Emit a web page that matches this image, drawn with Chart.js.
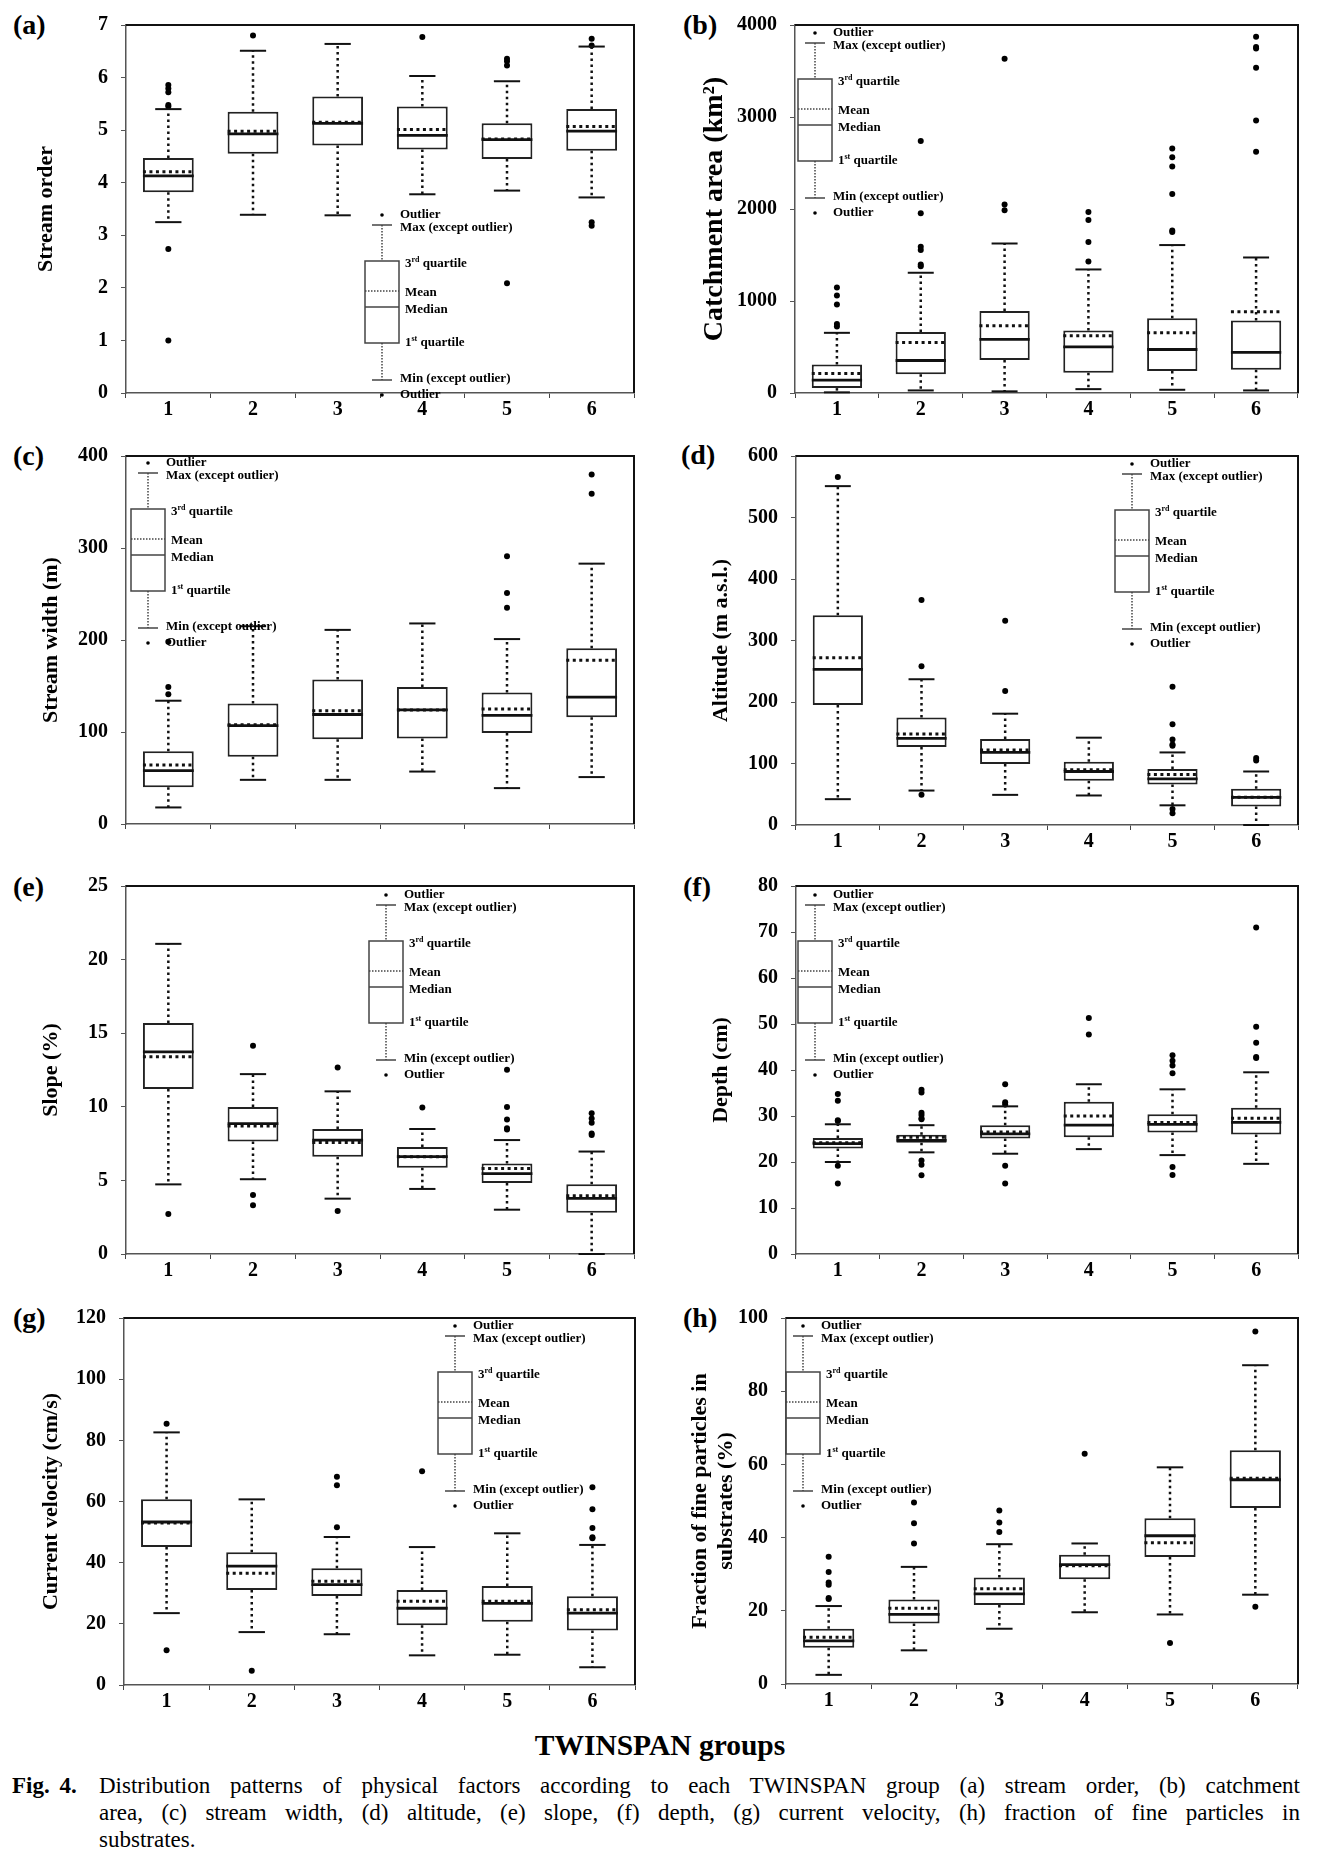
<!DOCTYPE html>
<html>
<head>
<meta charset="utf-8">
<script src="https://cdn.jsdelivr.net/npm/chart.js@4.4.0/dist/chart.umd.min.js"></script>
<style>
  body { margin: 0; background: #fff; }
  #page { position: relative; width: 1320px; height: 1867px; font-family: "Liberation Serif", "Times New Roman", serif; color: #000; overflow: hidden; }
  #page canvas { position: absolute; }
  .tag { position: absolute; font-weight: bold; font-size: 28px; line-height: 32px; }
  .xtitle { position: absolute; left: 0; width: 1320px; top: 1727px; text-align: center; font-weight: bold; font-size: 29.5px; line-height: 36px; }
  .cap { position: absolute; left: 99px; width: 1201px; top: 1772px; font-size: 23px; line-height: 27px; }
  .cap .ln.j { text-align: justify; text-align-last: justify; }
  .cap .fig { position: absolute; left: -87px; top: 0; font-weight: bold; word-spacing: 4px; }
</style>
</head>
<body>
<div id="page">
  <div class="tag" style="left:13px;top:9px">(a)</div>
  <div class="tag" style="left:683px;top:9px">(b)</div>
  <div class="tag" style="left:13px;top:440px">(c)</div>
  <div class="tag" style="left:681px;top:439px">(d)</div>
  <div class="tag" style="left:13px;top:871px">(e)</div>
  <div class="tag" style="left:683px;top:871px">(f)</div>
  <div class="tag" style="left:13px;top:1302px">(g)</div>
  <div class="tag" style="left:683px;top:1302px">(h)</div>
  <div class="xtitle">TWINSPAN groups</div>
  <div class="cap">
    <div class="fig">Fig. 4.</div>
    <div class="ln j">Distribution patterns of physical factors according to each TWINSPAN group (a) stream order, (b) catchment</div>
    <div class="ln j">area, (c) stream width, (d) altitude, (e) slope, (f) depth, (g) current velocity, (h) fraction of fine particles in</div>
    <div class="ln">substrates.</div>
  </div>
</div>
<script>
const groups = ['1', '2', '3', '4', '5', '6'];

// box rows per group: [min, q1, median, mean, q3, max]
const orderBox = [
  [3.25, 3.82, 4.13, 4.21, 4.47, 5.40],
  [3.39, 4.55, 4.93, 4.98, 5.35, 6.51],
  [3.38, 4.71, 5.13, 5.15, 5.64, 6.64],
  [3.78, 4.63, 4.90, 5.01, 5.45, 6.03],
  [3.85, 4.45, 4.82, 4.83, 5.13, 5.93],
  [3.72, 4.61, 4.98, 5.07, 5.40, 6.59]
];
const orderOut = [[5.86, 5.79, 5.72, 5.48, 5.45, 2.74, 1.0], [6.80], [], [6.77], [6.36, 6.31, 6.23, 2.09], [6.74, 6.61, 3.25, 3.18]];
const orderTicks = [0, 1, 2, 3, 4, 5, 6, 7];

const areaBox = [
  [7, 53, 141, 212, 311, 654],
  [28, 205, 353, 548, 664, 1307],
  [18, 360, 583, 731, 890, 1625],
  [42, 219, 502, 622, 678, 1343],
  [35, 240, 473, 654, 813, 1608],
  [28, 254, 442, 883, 788, 1473]
];
const areaOut = [[1148, 1060, 961, 749, 724], [2739, 1954, 1590, 1555, 1396, 1378], [3633, 2049, 1986], [1968, 1880, 1640, 1428], [2657, 2562, 2463, 2163, 1765, 1750], [3873, 3760, 3745, 3534, 2961, 2622]];
const areaTicks = [0, 1000, 2000, 3000, 4000];

const widthBox = [
  [18, 40, 58, 64, 79, 134],
  [48, 73, 107, 108, 131, 215],
  [48, 92, 119, 123, 157, 211],
  [57, 93, 124, 124, 149, 218],
  [39, 99, 118, 125, 143, 201],
  [51, 116, 138, 178, 191, 283]
];
const widthOut = [[198, 149, 141], [], [], [], [291, 251, 235], [380, 359]];
const widthTicks = [0, 100, 200, 300, 400];

const altBox = [
  [42, 195, 253, 272, 341, 551],
  [56, 127, 141, 148, 175, 237],
  [49, 99, 118, 122, 140, 181],
  [48, 72, 87, 90, 103, 142],
  [32, 66, 75, 82, 91, 118],
  [0, 30, 45, 45, 59, 87]
];
const altOut = [[566], [366, 258, 49], [332, 218], [], [225, 164, 139, 131, 129, 26, 19], [109, 105]];
const altTicks = [0, 100, 200, 300, 400, 500, 600];

const slopeBox = [
  [4.73, 11.21, 13.73, 13.40, 15.69, 21.07],
  [5.08, 7.65, 8.86, 8.69, 9.99, 12.22],
  [3.76, 6.61, 7.74, 7.58, 8.49, 11.05],
  [4.42, 5.86, 6.61, 6.61, 7.27, 8.49],
  [3.01, 4.82, 5.46, 5.81, 6.15, 7.74],
  [0, 2.81, 3.78, 3.96, 4.73, 6.96]
];
const slopeOut = [[2.72], [14.15, 4.0, 3.32], [12.67, 2.92], [9.95], [12.51, 9.99, 9.13, 8.55, 8.45], [9.57, 9.2, 8.91, 8.18, 8.08]];
const slopeTicks = [0, 5, 10, 15, 20, 25];

const depthBox = [
  [20.0, 22.95, 24.0, 24.2, 25.2, 28.2],
  [22.1, 24.2, 24.7, 25.4, 25.9, 28.0],
  [21.8, 25.1, 26.1, 26.5, 28.0, 32.1],
  [22.8, 25.4, 28.0, 30.0, 33.1, 36.9],
  [21.5, 26.4, 28.2, 28.6, 30.4, 35.8],
  [19.6, 26.0, 28.6, 29.5, 31.8, 39.5]
];
const depthOut = [[34.8, 33.3, 29.1, 28.9, 19.2, 15.3], [35.7, 35.1, 30.7, 30.2, 29.5, 29.3, 20.3, 19.4, 17.1], [36.9, 33.0, 32.5, 19.2, 15.3], [51.3, 47.7], [43.2, 42.0, 41.0, 39.3, 18.9, 17.2], [71.0, 49.4, 45.9, 42.8, 42.6]];
const depthTicks = [0, 10, 20, 30, 40, 50, 60, 70, 80];

const velBox = [
  [23.5, 45.1, 53.3, 53.0, 60.7, 82.6],
  [17.3, 31.1, 38.9, 36.5, 43.4, 60.7],
  [16.6, 29.1, 32.8, 33.9, 38.2, 48.4],
  [9.7, 19.5, 25.1, 27.4, 31.1, 45.1],
  [9.9, 20.7, 26.7, 27.4, 32.4, 49.6],
  [5.8, 17.8, 23.5, 24.6, 29.0, 45.8]
];
const velOut = [[85.4, 11.4], [4.7], [68.1, 65.3, 51.6], [69.9], [], [64.7, 57.5, 51.3, 48.3, 48.0]];
const velTicks = [0, 20, 40, 60, 80, 100, 120];

const fineBox = [
  [2.5, 9.9, 11.8, 12.8, 15.1, 21.3],
  [9.2, 16.5, 19.0, 20.7, 23.1, 32.0],
  [15.1, 21.6, 24.6, 26.0, 29.1, 38.2],
  [19.6, 28.6, 32.6, 32.3, 35.3, 38.4],
  [19.0, 34.7, 40.5, 38.6, 45.3, 59.2],
  [24.4, 48.1, 55.8, 56.2, 63.9, 87.1]
];
const fineOut = [[34.8, 30.6, 27.7, 27.1, 23.5, 23.2], [49.6, 43.9, 38.4], [47.4, 44.1, 41.5], [62.9], [11.2], [96.3, 21.1]];
const fineTicks = [0, 20, 40, 60, 80, 100];

const SERIF = '"Liberation Serif", "Times New Roman", serif';

// page layout of each panel (plot area edges in page px, legend offset from plot top-left)
const panels = [
  { id: 'a', box: orderBox, out: orderOut, ticks: orderTicks, title: 'Stream order', tsize: 22, tx: 46, cx: 0, L: 126, R: 634, T: 16, B: 393, showX: true, leg: [256, 190] },
  { id: 'b', box: areaBox, out: areaOut, ticks: areaTicks, title: 'Catchment area (km\u00b2)', tsize: 28, tx: 55, cx: 660, L: 795, R: 1298, T: 16, B: 393, showX: true, leg: [20, 8] },
  { id: 'c', box: widthBox, out: widthOut, ticks: widthTicks, title: 'Stream width (m)', tsize: 22, tx: 51, cx: 0, L: 126, R: 634, T: 447, B: 824, showX: false, leg: [22, 7] },
  { id: 'd', box: altBox, out: altOut, ticks: altTicks, title: 'Altitude (m a.s.l.)', tsize: 22, tx: 61, cx: 660, L: 796, R: 1298, T: 447, B: 825, showX: true, leg: [336, 8] },
  { id: 'e', box: slopeBox, out: slopeOut, ticks: slopeTicks, title: 'Slope (%)', tsize: 22, tx: 51, cx: 0, L: 126, R: 634, T: 877, B: 1254, showX: true, leg: [260, 9] },
  { id: 'f', box: depthBox, out: depthOut, ticks: depthTicks, title: 'Depth (cm)', tsize: 22, tx: 61, cx: 660, L: 796, R: 1298, T: 877, B: 1254, showX: true, leg: [19, 9] },
  { id: 'g', box: velBox, out: velOut, ticks: velTicks, title: 'Current velocity (cm/s)', tsize: 22, tx: 51, cx: 0, L: 124, R: 635, T: 1309, B: 1685, showX: true, leg: [331, 8] },
  { id: 'h', box: fineBox, out: fineOut, ticks: fineTicks, title: ['Fraction of fine particles in', 'substrates (%)'], tsize: 22, tx: 40, cx: 660, L: 786, R: 1298, T: 1309, B: 1684, showX: true, leg: [17, 8] }
];

function seg(ctx, x1, y1, x2, y2) {
  ctx.beginPath(); ctx.moveTo(x1, y1); ctx.lineTo(x2, y2); ctx.stroke();
}
function dot(ctx, x, y, r) {
  ctx.beginPath(); ctx.arc(x, y, r, 0, Math.PI * 2); ctx.fill();
}

function drawKey(ctx, ox, oy) {
  ctx.save();
  ctx.fillStyle = '#000';
  ctx.strokeStyle = '#444';
  dot(ctx, ox, oy, 1.8);
  dot(ctx, ox, oy + 180, 1.8);
  ctx.lineWidth = 1.5;
  seg(ctx, ox - 10, oy + 10, ox + 10, oy + 10);
  seg(ctx, ox - 10, oy + 165, ox + 10, oy + 165);
  ctx.strokeRect(ox - 17, oy + 46, 34, 82);
  seg(ctx, ox - 17, oy + 92, ox + 17, oy + 92);
  ctx.setLineDash([1.5, 1.5]);
  seg(ctx, ox, oy + 10, ox, oy + 46);
  seg(ctx, ox, oy + 128, ox, oy + 165);
  seg(ctx, ox - 17, oy + 76, ox + 17, oy + 76);
  ctx.setLineDash([]);

  const f = 'bold 13px ' + SERIF;
  ctx.font = f;
  ctx.textBaseline = 'middle';
  ctx.textAlign = 'left';
  ctx.fillText('Outlier', ox + 18, oy);
  ctx.fillText('Max (except outlier)', ox + 18, oy + 13);
  ctx.fillText('Mean', ox + 23, oy + 78);
  ctx.fillText('Median', ox + 23, oy + 95);
  ctx.fillText('Min (except outlier)', ox + 18, oy + 164);
  ctx.fillText('Outlier', ox + 18, oy + 180);
  [['3', 'rd', ' quartile', oy + 49], ['1', 'st', ' quartile', oy + 128]].forEach(([a, s, b, ty]) => {
    let x = ox + 23;
    ctx.font = f; ctx.fillText(a, x, ty); x += ctx.measureText(a).width;
    ctx.font = 'bold 8px ' + SERIF; ctx.fillText(s, x, ty - 4); x += ctx.measureText(s).width;
    ctx.font = f; ctx.fillText(b, x, ty);
  });
  ctx.restore();
}

function boxPlugin(p) {
  return {
    id: 'box_' + p.id,
    afterDatasetsDraw(chart) {
      const { ctx, chartArea: a, scales: { x, y } } = chart;
      const cw = a.width / groups.length;
      const hw = cw * 0.3, cap = cw * 0.155;
      ctx.save();
      ctx.strokeStyle = '#111';
      p.box.forEach((r, i) => {
        const [mn, q1, md, mean, q3, mx] = r;
        const px = x.getPixelForValue(i);
        const yMin = y.getPixelForValue(mn), yQ1 = y.getPixelForValue(q1);
        const yQ3 = y.getPixelForValue(q3), yMax = y.getPixelForValue(mx);
        // whiskers
        ctx.lineWidth = 2.5; ctx.setLineDash([2.5, 3.5]);
        seg(ctx, px, yQ3, px, yMax);
        seg(ctx, px, yQ1, px, yMin);
        ctx.setLineDash([]); ctx.lineWidth = 2;
        seg(ctx, px - cap, yMax, px + cap, yMax);
        seg(ctx, px - cap, yMin, px + cap, yMin);
        // median
        ctx.lineWidth = 2.8;
        seg(ctx, px - hw, y.getPixelForValue(md), px + hw, y.getPixelForValue(md));
        // mean
        ctx.lineWidth = 3; ctx.setLineDash([3, 3.5]);
        seg(ctx, px - hw, y.getPixelForValue(mean), px + hw, y.getPixelForValue(mean));
        ctx.setLineDash([]);
      });
      ctx.restore();
    },
    afterDraw(chart) {
      const { ctx, chartArea: a } = chart;
      ctx.save();
      ctx.strokeStyle = '#111'; ctx.lineWidth = 2;
      ctx.beginPath(); ctx.moveTo(a.left, a.top); ctx.lineTo(a.right, a.top); ctx.lineTo(a.right, a.bottom); ctx.stroke();
      ctx.restore();
      drawKey(ctx, a.left + p.leg[0], a.top + p.leg[1]);
    }
  };
}

const page = document.getElementById('page');
panels.forEach(p => {
  const cv = document.createElement('canvas');
  const h = (p.B - p.T) + 16 + 40;
  cv.width = 660; cv.height = h;
  cv.style.left = p.cx + 'px'; cv.style.top = (p.T - 16) + 'px';
  cv.style.width = '660px'; cv.style.height = h + 'px';
  page.appendChild(cv);

  const points = [];
  p.out.forEach((vals, i) => vals.forEach(v => points.push({ x: groups[i], y: v })));
  const lh = p.tsize * 1.2;

  new Chart(cv.getContext('2d'), {
    type: 'bar',
    data: {
      labels: groups,
      datasets: [
        {
          type: 'bar', data: p.box.map(r => [r[1], r[4]]),
          backgroundColor: '#fff', borderColor: '#222', borderWidth: 2, borderSkipped: false,
          barPercentage: 0.6, categoryPercentage: 1, order: 2
        },
        {
          type: 'line', data: points, showLine: false,
          pointRadius: 3, pointBackgroundColor: '#000', pointBorderWidth: 0, order: 1
        }
      ]
    },
    options: {
      responsive: false,
      animation: false,
      layout: { padding: { left: 0, right: p.cx + 660 - p.R, top: 16, bottom: 0 } },
      plugins: { legend: { display: false }, tooltip: { enabled: false } },
      scales: {
        x: {
          offset: true,
          grid: { offset: true, drawOnChartArea: false, color: '#444', tickLength: 5 },
          border: { color: '#555', width: 1.5 },
          ticks: { display: p.showX, color: '#000', padding: 0, maxRotation: 0, autoSkip: false, font: { family: SERIF, size: 20, weight: 'bold' } },
          afterFit: s => { s.height = 40; }
        },
        y: {
          min: p.ticks[0], max: p.ticks[p.ticks.length - 1],
          grid: { drawOnChartArea: false, color: '#555', tickLength: 5 },
          border: { color: '#555', width: 1.5 },
          ticks: { color: '#000', padding: 13, callback: v => String(v), font: { family: SERIF, size: 20, weight: 'bold' } },
          afterBuildTicks: s => { s.ticks = p.ticks.map(v => ({ value: v })); },
          afterFit: s => { s.width = p.L - p.cx; },
          title: {
            display: true, text: p.title, color: '#000',
            font: { family: SERIF, size: p.tsize, weight: 'bold' },
            padding: { top: p.tx - lh / 2, bottom: 0 }
          }
        }
      }
    },
    plugins: [boxPlugin(p)]
  });
});
</script>
</body>
</html>
